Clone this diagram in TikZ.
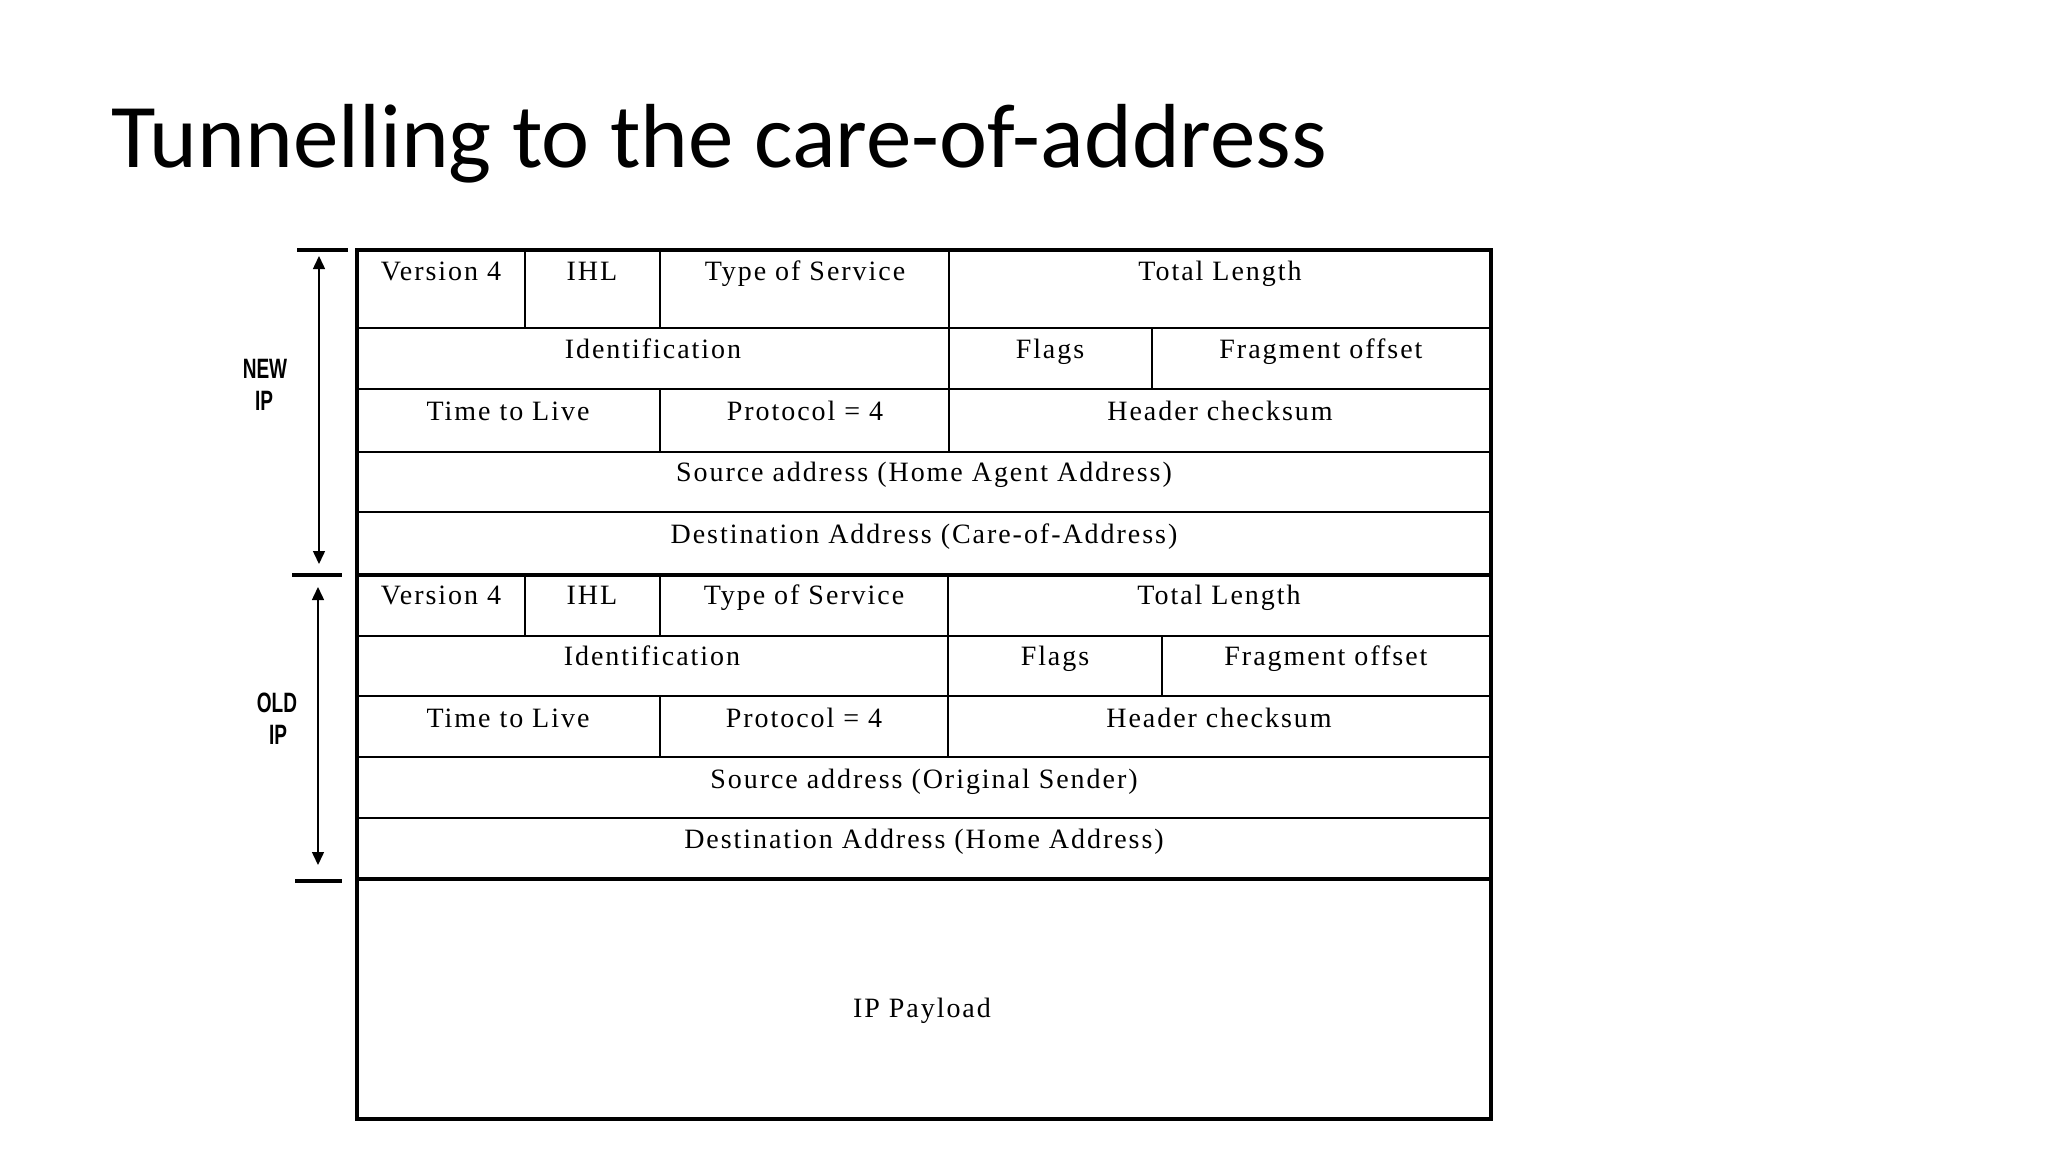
\documentclass[tikz,border=0pt]{standalone}
\usepackage{fontspec}
\usepackage{graphicx}
\setmainfont{Liberation Serif}
\newfontfamily\titlefont{Carlito}
\newfontfamily\fieldfont[LetterSpace=7]{Liberation Serif}
\newfontfamily\tagfont{Liberation Sans}
\usetikzlibrary{arrows.meta}

\newcommand{\tagtext}[1]{\scalebox{0.68}[1]{\bfseries #1}}

\tikzset{
    field/.style={anchor=base, inner sep=0pt, font=\fieldfont\fontsize{28}{30}\selectfont},
    tag/.style={anchor=base, inner sep=0pt, font=\tagfont\fontsize{28}{30}\selectfont},
    rule/.style={line width=1.6pt},
    heavy/.style={line width=4.5pt},
    tick/.style={line width=3.5pt},
    span/.style={line width=1.5pt, {Triangle[length=13pt,width=12pt]}-{Triangle[length=13pt,width=12pt]}}
}

\begin{document}
\begin{tikzpicture}[x=1pt, y=-1pt]
        \useasboundingbox (0,0) rectangle (2048,1152);

        \node[anchor=base west, inner sep=0pt, font=\titlefont\fontsize{91}{100}\selectfont]
            (title) at (111,167) {Tunnelling to the care-of-address};

        % Grid of the outer (new) header.
        \draw[rule] (357,328) -- (1491,328);
        \draw[rule] (357,389) -- (1491,389);
        \draw[rule] (357,452) -- (1491,452);
        \draw[rule] (357,512) -- (1491,512);
        \draw[rule] (525,250) -- (525,328);
        \draw[rule] (660,250) -- (660,328);
        \draw[rule] (949,250) -- (949,452);
        \draw[rule] (1152,328) -- (1152,389);
        \draw[rule] (660,389) -- (660,452);

        % Grid of the inner (old) header.
        \draw[rule] (357,636) -- (1491,636);
        \draw[rule] (357,696) -- (1491,696);
        \draw[rule] (357,757) -- (1491,757);
        \draw[rule] (357,818) -- (1491,818);
        \draw[rule] (525,575) -- (525,636);
        \draw[rule] (660,575) -- (660,636);
        \draw[rule] (948,575) -- (948,757);
        \draw[rule] (1162,636) -- (1162,696);
        \draw[rule] (660,696) -- (660,757);

        \draw[heavy] (357,575) -- (1491,575);
        \draw[heavy] (357,879) -- (1491,879);
        \draw[line width=4pt] (357,250) rectangle (1491,1119);

        \node[field] (vera) at (441,280) {Version 4};
        \node[field] (ihla) at (592,280) {IHL};
        \node[field] (tosa) at (805,280) {Type of Service};
        \node[field] (lena) at (1220,280) {Total Length};
        \node[field] (ida) at (653,358) {Identification};
        \node[field] (flagsa) at (1050,358) {Flags};
        \node[field] (fraga) at (1321,358) {Fragment offset};
        \node[field] (ttla) at (508,420) {Time to Live};
        \node[field] (protoa) at (805,420) {Protocol = 4};
        \node[field] (suma) at (1220,420) {Header checksum};
        \node[field] (srca) at (924,481) {Source address (Home Agent Address)};
        \node[field] (dsta) at (924,543) {Destination Address (Care-of-Address)};

        \node[field] (verb) at (441,604) {Version 4};
        \node[field] (ihlb) at (592,604) {IHL};
        \node[field] (tosb) at (804,604) {Type of Service};
        \node[field] (lenb) at (1219,604) {Total Length};
        \node[field] (idb) at (652,665) {Identification};
        \node[field] (flagsb) at (1055,665) {Flags};
        \node[field] (fragb) at (1326,665) {Fragment offset};
        \node[field] (ttlb) at (508,727) {Time to Live};
        \node[field] (protob) at (804,727) {Protocol = 4};
        \node[field] (sumb) at (1219,727) {Header checksum};
        \node[field] (srcb) at (924,788) {Source address (Original Sender)};
        \node[field] (dstb) at (924,848) {Destination Address (Home Address)};

        \node[field] (payload) at (922,1017) {IP Payload};

        % Brackets on the left.
        \draw[tick] (297,250) -- (348,250);
        \draw[tick] (292,575) -- (342,575);
        \draw[tick] (295,881) -- (342,881);
        \coordinate (newtop) at (319,256);
        \coordinate (newbot) at (319,564);
        \coordinate (oldtop) at (318,587);
        \coordinate (oldbot) at (318,865);
        \draw[span] (newtop) -- (newbot);
        \draw[span] (oldtop) -- (oldbot);

        \node[tag] (newlbl) at (265,378) {\tagtext{NEW}};
        \node[tag] (newip) at (264,410) {\tagtext{IP}};
        \node[tag] (oldlbl) at (277,712) {\tagtext{OLD}};
        \node[tag] (oldip) at (278,744) {\tagtext{IP}};
    \end{tikzpicture}
\end{document}
